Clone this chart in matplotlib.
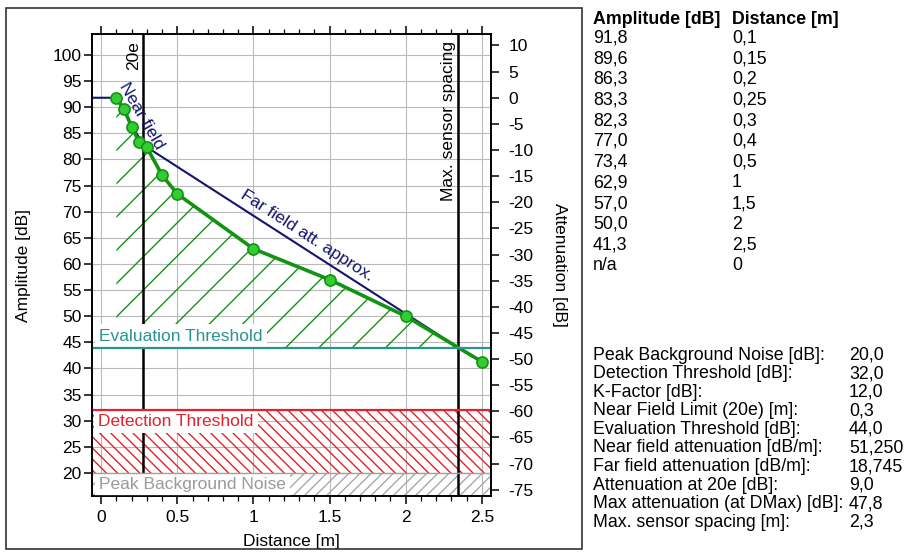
import numpy as np
import matplotlib.pyplot as plt
from matplotlib.patches import Rectangle
from matplotlib.ticker import MultipleLocator

plt.rcParams['font.family'] = ['Liberation Sans', 'DejaVu Sans']
plt.rcParams['hatch.linewidth'] = 0.5
plt.rcParams['axes.unicode_minus'] = False

# measured amplitude vs distance
dist = np.array([0.1, 0.15, 0.2, 0.25, 0.3, 0.4, 0.5, 1.0, 1.5, 2.0, 2.5])
amp = np.array([91.8, 89.6, 86.3, 83.3, 82.3, 77.0, 73.4, 62.9, 57.0, 50.0, 41.3])

# near field / far field approximation
model_d = [-0.06, 0.1, 0.276, 2.346]
model_a = [91.8, 91.8, 82.8, 44.0]

ref_amp = 91.8
noise_db = 20.0
detect_db = 32.0
eval_db = 44.0
d_20e = 0.276
d_max = 2.346

# table on the right
tab_amp = ['91,8', '89,6', '86,3', '83,3', '82,3', '77,0', '73,4', '62,9', '57,0', '50,0', '41,3', 'n/a']
tab_dist = ['0,1', '0,15', '0,2', '0,25', '0,3', '0,4', '0,5', '1', '1,5', '2', '2,5', '0']
par_names = ['Peak Background Noise [dB]:', 'Detection Threshold [dB]:', 'K-Factor [dB]:',
             'Near Field Limit (20e) [m]:', 'Evaluation Threshold [dB]:',
             'Near field attenuation [dB/m]:', 'Far field attenuation [dB/m]:',
             'Attenuation at 20e [dB]:', 'Max attenuation (at DMax) [dB]:',
             'Max. sensor spacing [m]:']
par_vals = ['20,0', '32,0', '12,0', '0,3', '44,0', '51,250', '18,745', '9,0', '47,8', '2,3']

W, H, DPI = 913, 552, 200
fs = 6.25
fs_tab = 6.4
green = '#129312'
navy = '#14146e'
teal = '#2a9393'
red = '#e3222c'
grey = '#9a9a9a'

fig = plt.figure(figsize=(W / DPI, H / DPI), dpi=DPI)
ax = fig.add_axes([92 / W, 1 - 496 / H, 399 / W, 462 / H])
xlim = (-0.06, 2.56)
ylim = (15.6, 104.0)
ax.set_xlim(*xlim)
ax.set_ylim(*ylim)

ax.xaxis.set_major_locator(MultipleLocator(0.5))
ax.xaxis.set_minor_locator(MultipleLocator(0.1))
ax.set_yticks(np.arange(20, 101, 5))
ax.set_xticks([0, 0.5, 1, 1.5, 2, 2.5], ['0', '0.5', '1', '1.5', '2', '2.5'])
ax.tick_params(axis='x', which='major', top=True, direction='out', length=2.9, width=0.55,
               labelsize=fs, pad=2.3)
ax.tick_params(axis='x', which='minor', top=True, direction='out', length=1.7, width=0.45)
ax.tick_params(axis='y', direction='out', length=2.9, width=0.55, labelsize=fs, pad=0.8)
for s in ax.spines.values():
    s.set_linewidth(0.6)
ax.grid(which='major', color='#b9b9b9', lw=0.4)
ax.set_axisbelow(True)

# hatched bands
ax.axhspan(ylim[0], noise_db, facecolor='none', edgecolor='#a8a8a8', hatch='/' * 6, lw=0, zorder=1)
ax.axhspan(noise_db, detect_db, facecolor='none', edgecolor=red, hatch='\\' * 6, lw=0, zorder=1)
ax.axhline(noise_db, color='#a0a0a0', lw=0.5, zorder=7)
ax.axhline(detect_db, color=red, lw=0.8, zorder=7)
ax.fill_between(dist, amp, eval_db, where=amp >= eval_db, interpolate=True,
                facecolor='none', edgecolor=green, hatch='//', lw=0, zorder=1)
ax.axhline(eval_db, color=teal, lw=0.8, zorder=7)

# model line
ax.plot(model_d, model_a, color=navy, lw=0.75, zorder=3)

# vertical markers
ax.vlines(d_20e, noise_db, ylim[1], color='black', lw=0.9, zorder=4)
ax.vlines(d_max, ylim[0], ylim[1], color='black', lw=0.9, zorder=4)

# measurements
ax.plot(dist, amp, color=green, lw=1.3, marker='o', ms=4, mfc='#33cc33', mec=green,
        mew=0.6, zorder=5)

# labels
box = dict(boxstyle='square,pad=0.25', fc='white', ec='none')
ax.annotate('20e', xy=(d_20e, 1), xycoords=('data', 'axes fraction'), xytext=(-0.8, -2.5),
            textcoords='offset points', rotation=90, ha='right', va='top', fontsize=fs)
ax.annotate('Max. sensor spacing', xy=(d_max, 1), xycoords=('data', 'axes fraction'),
            xytext=(-1.0, -2.5), textcoords='offset points', rotation=90, ha='right',
            va='top', fontsize=fs)
ax.text(0.262, 88.3, 'Near field', color=navy, fontsize=fs, rotation=-60,
        rotation_mode='anchor', ha='center', va='center', zorder=6)
ax.text(1.352, 65.4, 'Far field att. approx.', color=navy, fontsize=fs, rotation=-32.9,
        rotation_mode='anchor', ha='center', va='center', zorder=6)
ax.text(-0.013, 46.2, 'Evaluation Threshold', color=teal, fontsize=fs, ha='left',
        va='center', bbox=box, zorder=6)
ax.text(-0.02, 29.9, 'Detection Threshold', color=red, fontsize=fs, ha='left',
        va='center', bbox=box, zorder=6)
ax.text(-0.013, 17.8, 'Peak Background Noise', color=grey, fontsize=fs, ha='left',
        va='center', bbox=box, zorder=6)

ax.set_xlabel('Distance [m]', fontsize=fs, labelpad=3)
ax.set_ylabel('Amplitude [dB]', fontsize=fs, labelpad=8)

# attenuation axis
ax2 = ax.twinx()
ax2.set_ylim(ylim[0] - ref_amp, ylim[1] - ref_amp)
ax2.set_yticks(np.arange(-75, 11, 5))
ax2.tick_params(axis='y', direction='out', length=2.9, width=0.55, labelsize=fs, pad=3.4)
for s in ax2.spines.values():
    s.set_linewidth(0.6)
ax2.set_ylabel('Attenuation [dB]', fontsize=fs, rotation=-90, labelpad=12)

# frame around the chart part
fig.add_artist(Rectangle((6 / W, 1 - 549 / H), 576 / W, 541 / H, transform=fig.transFigure,
                         fill=False, ec='#333333', lw=0.6))

# right hand tables
fig.text(593 / W, 1 - 20 / H, 'Amplitude [dB]', fontsize=fs_tab, fontweight='bold', va='center')
fig.text(732 / W, 1 - 20 / H, 'Distance [m]', fontsize=fs_tab, fontweight='bold', va='center')
for i, (a, d) in enumerate(zip(tab_amp, tab_dist)):
    y = 1 - (38 + i * 20.7) / H
    fig.text(593 / W, y, a, fontsize=fs_tab, va='center')
    fig.text(732 / W, y, d, fontsize=fs_tab, va='center')

for i, (n, v) in enumerate(zip(par_names, par_vals)):
    y = 1 - (355 + i * 18.6) / H
    fig.text(593 / W, y, n, fontsize=fs_tab, va='center')
    fig.text(849 / W, y, v, fontsize=fs_tab, va='center')

fig.savefig('out.png', dpi=DPI)
